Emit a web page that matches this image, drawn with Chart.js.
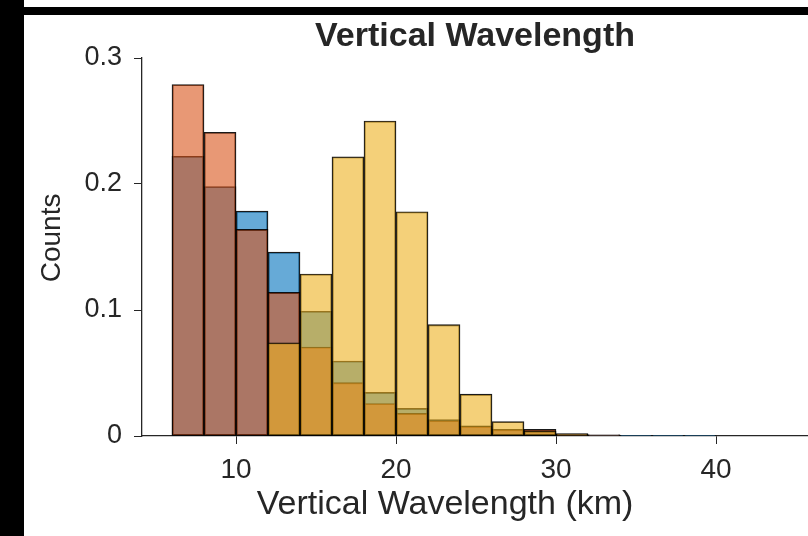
<!DOCTYPE html>
<html>
<head>
<meta charset="utf-8">
<script src="https://cdn.jsdelivr.net/npm/chart.js@4.4.1/dist/chart.umd.min.js"></script>
<style>
  html, body { margin: 0; padding: 0; background: #fff; overflow: hidden; }
  #wrap { position: relative; width: 808px; height: 536px; }
  #frame-left { position: absolute; left: 0; top: 0; width: 24px; height: 536px; background: #000; }
  #frame-top { position: absolute; left: 0; top: 7px; width: 808px; height: 8px; background: #000; }
</style>
</head>
<body>
<div id="wrap">
  <canvas id="hist" width="808" height="536"></canvas>
  <div id="frame-left"></div>
  <div id="frame-top"></div>
</div>
<script>
// bin centres, 2 km wide bins
const binCenters = [7, 9, 11, 13, 15, 17, 19, 21, 23, 25, 27, 29, 31, 33, 35, 37, 39];
const blueCounts = [0.222, 0.198, 0.1785, 0.146, 0.099, 0.0595, 0.0346, 0.0219, 0.013, 0.008, 0.005, 0.004, 0.002, 0.001, 0.0005, 0.0005, 0.0005];
const orangeCounts = [0.279, 0.241, 0.164, 0.114, 0.0706, 0.0423, 0.0258, 0.0179, 0.0123, 0.0078, 0.0052, 0.0052, 0.0015, 0.001, null, null, null];
const yellowCounts = [null, null, null, 0.074, 0.1286, 0.2216, 0.25, 0.178, 0.0884, 0.0332, 0.0115, 0.004, 0.0015, null, null, null, null];
const xTicks = [10, 20, 30, 40];
const yTicks = [0, 0.1, 0.2, 0.3];

const axisColor = "#262626";
const fontFamily = "'Liberation Sans', Arial, sans-serif";

function toPoints(values) {
  return binCenters.map((x, i) => ({ x: x, y: values[i] }));
}

function histSet(label, values, color, order) {
  return {
    label: label,
    data: toPoints(values),
    backgroundColor: color,
    borderColor: "rgba(0,0,0,0.9)",
    borderWidth: 1.2,
    borderSkipped: false,
    barPercentage: 1,
    categoryPercentage: 1,
    grouped: false,
    order: order,
  };
}

// axis labels drawn by hand, they sit a bit off-centre in the original
const axisLabels = {
  id: "axisLabels",
  afterDraw(chart) {
    const ctx = chart.ctx;
    const area = chart.chartArea;
    ctx.save();
    ctx.fillStyle = axisColor;
    ctx.textAlign = "center";
    ctx.textBaseline = "middle";
    ctx.font = "34px " + fontFamily;
    ctx.fillText("Vertical Wavelength (km)", area.left + 0.455 * (area.right - area.left), 505);
    ctx.translate(52, area.top + 0.476 * (area.bottom - area.top));
    ctx.rotate(-Math.PI / 2);
    ctx.font = "28px " + fontFamily;
    ctx.fillText("Counts", 0, 0);
    ctx.restore();
  },
};

const chart = new Chart(document.getElementById("hist"), {
  type: "bar",
  data: {
    datasets: [
      histSet("Blue", blueCounts, "rgba(0,114,189,0.6)", 2),
      histSet("Orange", orangeCounts, "rgba(217,83,25,0.6)", 1),
      histSet("Yellow", yellowCounts, "rgba(237,177,32,0.6)", 0),
    ],
  },
  plugins: [axisLabels],
  options: {
    responsive: false,
    animation: false,
    layout: { padding: { top: 15, right: 0, bottom: 0, left: 0 } },
    plugins: {
      legend: { display: false },
      tooltip: { enabled: false },
      title: {
        display: true,
        text: "Vertical Wavelength",
        fullSize: false,
        color: axisColor,
        font: { family: fontFamily, size: 34, weight: "bold", lineHeight: 1.2 },
        padding: { top: 1, bottom: 1.2 },
      },
    },
    scales: {
      x: {
        type: "linear",
        min: 4.125,
        max: 45.75,
        offset: false,
        afterFit: (scale) => { scale.height = 100; },
        afterBuildTicks: (scale) => { scale.ticks = xTicks.map((v) => ({ value: v })); },
        grid: { display: true, offset: false, drawOnChartArea: false, drawTicks: true, tickLength: 8, color: axisColor },
        border: { display: true, color: axisColor, width: 1.3 },
        ticks: { color: axisColor, padding: 9, maxRotation: 0, font: { family: fontFamily, size: 28 } },
      },
      y: {
        min: 0,
        max: 0.3,
        afterFit: (scale) => { scale.width = 142; },
        afterBuildTicks: (scale) => { scale.ticks = yTicks.map((v) => ({ value: v })); },
        grid: { display: true, drawOnChartArea: false, drawTicks: true, tickLength: 8, color: axisColor },
        border: { display: true, color: axisColor, width: 1.3 },
        ticks: { color: axisColor, padding: 12, font: { family: fontFamily, size: 27 } },
      },
    },
  },
});
</script>
</body>
</html>
